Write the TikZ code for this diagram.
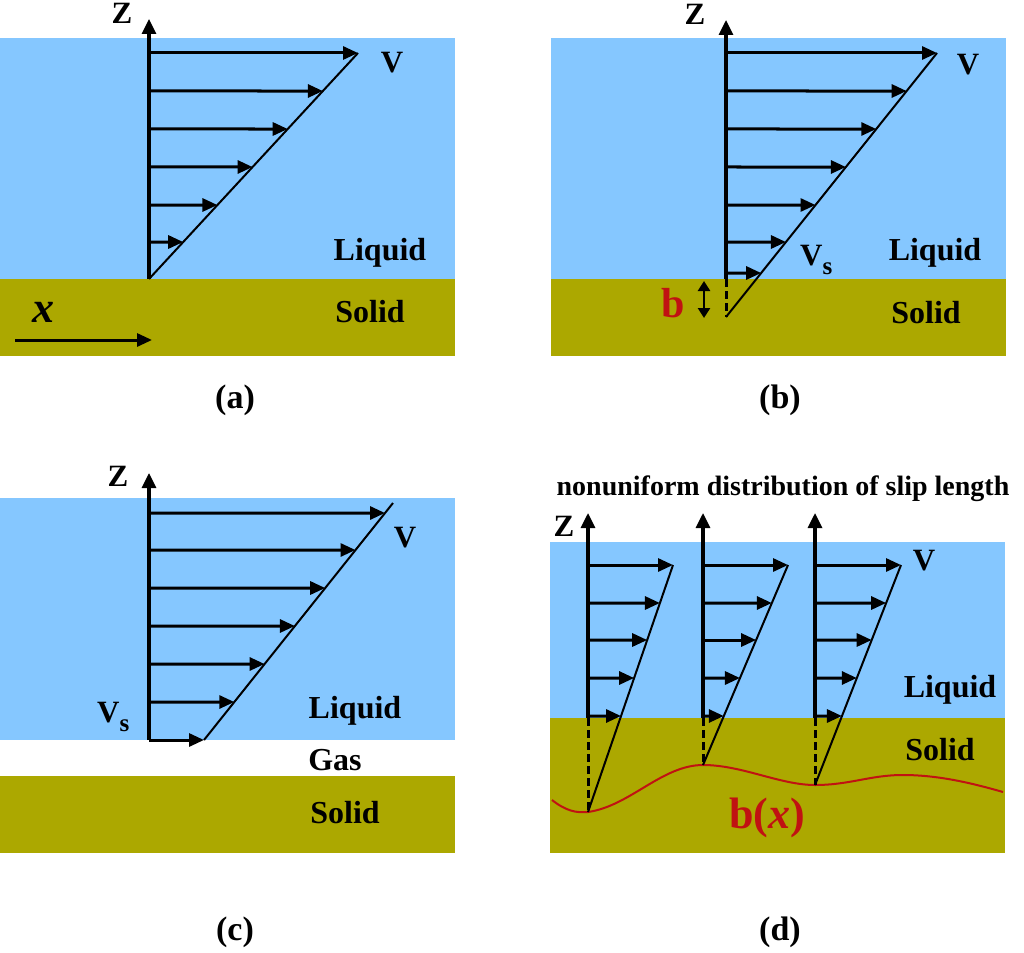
\documentclass[tikz,border=0pt]{standalone}
\usepackage{fontspec}
\setmainfont{Liberation Serif}
\usetikzlibrary{arrows.meta,calc}
\definecolor{liq}{RGB}{133,199,255}
\definecolor{sol}{RGB}{172,168,0}
\definecolor{redb}{RGB}{192,18,18}
\begin{document}
\begin{tikzpicture}[x=1pt,y=-1pt,
  axisline/.style={line width=3.2pt,-{Triangle[length=15pt,width=14pt]}},
  vel/.style={line width=3pt,-{Triangle[length=15pt,width=13pt]}},
  slant/.style={line width=2pt},
  dashline/.style={line width=3pt,dash pattern=on 8pt off 4pt},
  dbl/.style={line width=2.8pt,{Triangle[length=10pt,width=12pt]}-{Triangle[length=10pt,width=12pt]}},
  lbl/.style={font=\bfseries\fontsize{32}{36}\selectfont,inner sep=0pt,anchor=base},
  biglbl/.style={font=\bfseries\fontsize{44}{48}\selectfont,inner sep=0pt,anchor=base},
  captionlbl/.style={font=\bfseries\fontsize{34}{38}\selectfont,inner sep=0pt,anchor=base},
  vlbl/.style={font=\bfseries\fontsize{31}{34}\selectfont,inner sep=0pt,anchor=base},
  curve/.style={redb,line width=2pt}
]
\useasboundingbox (0,0) rectangle (1024,952);

% ---------------- (a)
\fill[liq] (0,38) rectangle (455,279);
\fill[sol] (0,279) rectangle (455,356);
\coordinate (aO) at (149,279);
\coordinate (aZ) at (149,19);
\coordinate (aTop) at (358,53);
\draw[axisline] (aO) -- (aZ);
\draw[slant] (aO) -- (aTop);
\foreach \y [count=\i] in {53,91,129,167,205,242} {
  \coordinate (aL\i) at (149,\y);
  \coordinate (aR\i) at ($(aO)!{(279-\y)/226}!(aTop)$);
  \draw[vel] (aL\i) -- (aR\i);
}
\node[vlbl] (aZl) at (122,24) {Z};
\node[vlbl] (aV) at (392,73) {V};
\node[lbl] (aLiq) at (380,260) {Liquid};
\node[lbl] (aSol) at (370,322) {Solid};
\node[biglbl] (ax) at (43,322) {\itshape x};
\coordinate (axs) at (15,340);
\coordinate (axe) at (152,340);
\draw[vel] (axs) -- (axe);
\node[captionlbl] (acap) at (235,408) {(a)};

% ---------------- (b)
\fill[liq] (551,38) rectangle (1006,279);
\fill[sol] (551,279) rectangle (1006,356);
\coordinate (bO) at (726,317);
\coordinate (bS) at (726,279);
\coordinate (bZ) at (726,20);
\coordinate (bTop) at (937,53);
\draw[axisline] (bS) -- (bZ);
\draw[dashline] (bS) -- (bO);
\draw[slant] (bO) -- (bTop);
\foreach \y [count=\i] in {53,91,129,167,205,242,273} {
  \coordinate (bL\i) at (726,\y);
  \coordinate (bR\i) at ($(bO)!{(317-\y)/264}!(bTop)$);
  \draw[vel] (bL\i) -- (bR\i);
}
\coordinate (bd1) at (704,281);
\coordinate (bd2) at (704,318);
\draw[dbl] (bd1) -- (bd2);
\node[biglbl,text=redb,font=\bfseries\fontsize{42}{46}\selectfont] (bb) at (673,317) {b};
\node[vlbl] (bZl) at (695,25) {Z};
\node[vlbl] (bV) at (968,75) {V};
\node[vlbl,anchor=base west] (bVs) at (800,265) {V\raisebox{-9pt}{\fontsize{25}{26}\selectfont s}};
\node[lbl] (bLiq) at (935,260) {Liquid};
\node[lbl] (bSol) at (926,323) {Solid};
\node[captionlbl] (bcap) at (780,408) {(b)};

% ---------------- (c)
\fill[liq] (0,498) rectangle (455,740);
\fill[sol] (0,776) rectangle (455,853);
\coordinate (cO) at (149,740);
\coordinate (cZ) at (149,473);
\coordinate (cBot) at (204,740);
\coordinate (cTop) at (393,503);
\draw[axisline] (cO) -- (cZ);
\draw[slant] (cBot) -- (cTop);
\foreach \y [count=\i] in {513,550,588,626,664,702,740} {
  \coordinate (cL\i) at (149,\y);
  \coordinate (cR\i) at ($(cBot)!{(740-\y)/237}!(cTop)$);
  \draw[vel] (cL\i) -- (cR\i);
}
\node[vlbl] (cZl) at (118,486) {Z};
\node[vlbl] (cV) at (405,547) {V};
\node[vlbl,anchor=base west] (cVs) at (97,722) {V\raisebox{-9pt}{\fontsize{25}{26}\selectfont s}};
\node[lbl] (cLiq) at (355,718) {Liquid};
\node[lbl] (cGas) at (335,770) {Gas};
\node[lbl] (cSol) at (345,823) {Solid};
\node[captionlbl] (ccap) at (235,940) {(c)};

% ---------------- (d)
\fill[liq] (550,542) rectangle (1005,718);
\fill[sol] (550,718) rectangle (1005,853);
\node[font=\bfseries\fontsize{28}{32}\selectfont,inner sep=0pt,anchor=base] (dtitle) at (783,495) {nonuniform distribution of slip length};
\coordinate (dc0) at (552,800);
\coordinate (dc1) at (588,812);
\coordinate (dc2) at (703,765);
\coordinate (dc3) at (815,785);
\coordinate (dc4) at (903,775);
\coordinate (dc5) at (1003,792);
\draw[curve] (dc0) .. controls (566,811) and (576,813) .. (dc1)
  .. controls (630,806) and (662,765) .. (dc2)
  .. controls (742,765) and (780,785) .. (dc3)
  .. controls (850,785) and (870,775) .. (dc4)
  .. controls (940,775) and (975,784) .. (dc5);
\foreach \px/\pb/\tx [count=\k] in {588/812/673,703/765/788,815/785/901} {
  \coordinate (dS\k) at (\px,718);
  \coordinate (dZ\k) at (\px,513);
  \coordinate (dB\k) at (\px,\pb);
  \coordinate (dT\k) at (\tx,565);
  \draw[axisline] (dS\k) -- (dZ\k);
  \draw[dashline] (dS\k) -- (dB\k);
  \draw[slant] (dB\k) -- (dT\k);
  \foreach \y [count=\i] in {565,603,640,678,716} {
    \coordinate (dL\k\i) at (\px,\y);
    \coordinate (dR\k\i) at ($(dB\k)!{(\pb-\y)/(\pb-565)}!(dT\k)$);
    \draw[vel] (dL\k\i) -- (dR\k\i);
  }
}
\node[vlbl] (dZl) at (564,536) {Z};
\node[vlbl] (dV) at (924,570) {V};
\node[lbl] (dLiq) at (950,697) {Liquid};
\node[lbl] (dSol) at (940,760) {Solid};
\node[biglbl,text=redb] (dbx) at (767,828) {b(\textit{x})};
\node[captionlbl] (dcap) at (780,940) {(d)};
\end{tikzpicture}
\end{document}
